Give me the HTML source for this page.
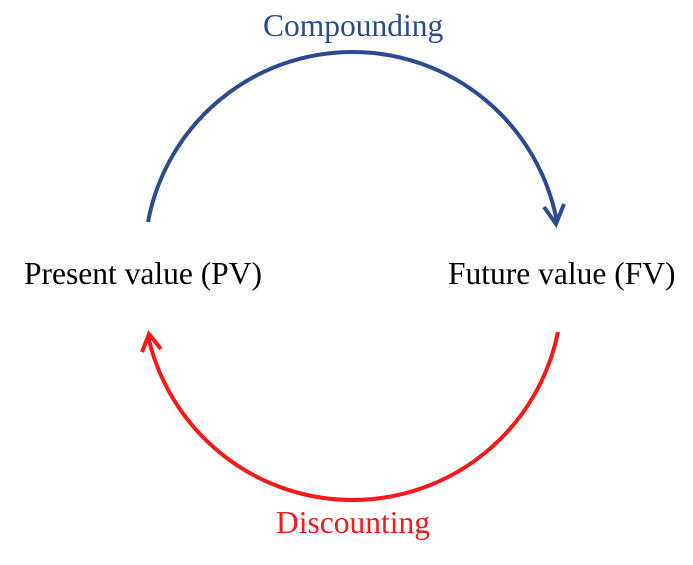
<!DOCTYPE html>
<html><head><style>
body{margin:0;width:693px;height:565px;background:#fff;overflow:hidden;position:relative;font-family:"Liberation Serif",serif;}
.t{position:absolute;font-size:31.5px;white-space:nowrap;line-height:1;}
</style></head><body>
<svg width="693" height="565" style="position:absolute;left:0;top:0">
<path d="M148,222 A208,208 0 0 1 557,222" fill="none" stroke="#2b4b8e" stroke-width="4"/>
<polyline points="544,207 556,224 564,204" fill="none" stroke="#2b4b8e" stroke-width="4" stroke-linejoin="miter"/>
<path d="M558,332 A209.6,209.6 0 0 1 148,336" fill="none" stroke="#f21a1a" stroke-width="4"/>
<polyline points="142,352 149,334 161,349" fill="none" stroke="#f21a1a" stroke-width="4"/>
</svg>
<div class="t" style="left:263px;top:10px;color:#2b4b8e">Compounding</div>
<div class="t" style="left:24px;top:258px;color:#000">Present value (PV)</div>
<div class="t" style="left:448px;top:258px;color:#000">Future value (FV)</div>
<div class="t" style="left:276px;top:507px;color:#f21a1a">Discounting</div>
</body></html>
